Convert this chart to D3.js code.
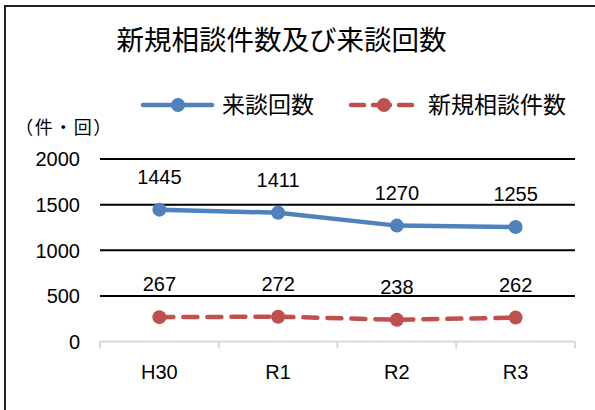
<!DOCTYPE html>
<html>
<head>
<meta charset="utf-8">
<script src="https://cdn.jsdelivr.net/npm/d3@7"></script>
<style>
  html, body { margin: 0; padding: 0; background: #fff; }
  svg { display: block; }
</style>
</head>
<body>
<svg id="chart" width="595" height="410"></svg>
<script>
const title = "新規相談件数及び来談回数";
const unitLabel = "（件・回）";
const categories = ["H30", "R1", "R2", "R3"];
const visitCounts = [1445, 1411, 1270, 1255];
const newCounts = [267, 272, 238, 262];
const seriesNames = ["来談回数", "新規相談件数"];
const yTicks = [0, 500, 1000, 1500, 2000];

(function () {
const svg = d3.select("#chart");
const numFont = "'Liberation Sans', Arial, sans-serif";
const cjkFont = "'Noto Sans CJK JP', 'Noto Sans CJK SC', sans-serif";
const blue = "#4f81bd", red = "#c0504d";

// frame
svg.append("rect").attr("x", 5).attr("y", 6).attr("width", 640).attr("height", 460)
  .attr("fill", "none").attr("stroke", "#222").attr("stroke-width", 2);

const pLeft = 100, pRight = 575, pTop = 159, pBottom = 341.5;
const x = d3.scaleBand().domain(categories).range([pLeft, pRight]);
const y = d3.scaleLinear().domain([0, 2000]).range([pBottom, pTop]);
const cx = d => x(d) + x.bandwidth() / 2;

// title
svg.append("text").attr("x", 281.5).attr("y", 50).attr("text-anchor", "middle")
  .attr("font-family", cjkFont).attr("font-size", 27.5).attr("fill", "#000").text(title);

// unit label
svg.append("text").attr("x", 64).attr("y", 134).attr("text-anchor", "middle")
  .attr("font-family", cjkFont).attr("font-size", 18).attr("letter-spacing", 1.5)
  .attr("fill", "#000").text(unitLabel);

// y axis labels
const yAxis = d3.axisLeft(y).tickValues(yTicks).tickSize(0).tickPadding(20)
  .tickFormat(d3.format("d"));
const gy = svg.append("g").attr("transform", `translate(${pLeft},0)`).call(yAxis);
gy.select(".domain").remove();
gy.selectAll("text").attr("font-family", numFont).attr("font-size", 20).attr("fill", "#000")
  .attr("dy", "0.34em");
// gridlines
svg.append("g").selectAll("line").data(yTicks.filter(t => t > 0)).join("line")
  .attr("x1", pLeft).attr("x2", pRight)
  .attr("y1", d => y(d)).attr("y2", d => y(d))
  .attr("stroke", "#000").attr("stroke-width", 2);

// x axis
const xAxis = d3.axisBottom(x).tickSize(0).tickPadding(23);
const gx = svg.append("g").attr("transform", `translate(0,${pBottom})`).call(xAxis);
gx.select(".domain").attr("stroke", "#d9d9d9").attr("stroke-width", 2)
  .attr("d", `M${pLeft},0H${pRight}`);
gx.selectAll("text").attr("font-family", numFont).attr("font-size", 20).attr("fill", "#000");
const bounds = categories.map(c => x(c)).concat([pRight]);
gx.append("g").selectAll("line").data(bounds).join("line")
  .attr("x1", d => d).attr("x2", d => d).attr("y1", 0).attr("y2", 7)
  .attr("stroke", "#d9d9d9").attr("stroke-width", 2);

// lines
const line = d3.line().x(d => cx(d.c)).y(d => y(d.v));
const visitData = categories.map((c, i) => ({ c, v: visitCounts[i] }));
const newData = categories.map((c, i) => ({ c, v: newCounts[i] }));

svg.append("path").datum(visitData).attr("d", line).attr("fill", "none")
  .attr("stroke", blue).attr("stroke-width", 4.5).attr("stroke-linejoin", "round");
svg.append("path").datum(newData).attr("d", line).attr("fill", "none")
  .attr("stroke", red).attr("stroke-width", 4.5).attr("stroke-dasharray", "14,10")
  .attr("stroke-linecap", "round");

svg.append("g").selectAll("circle").data(visitData).join("circle")
  .attr("cx", d => cx(d.c)).attr("cy", d => y(d.v)).attr("r", 7).attr("fill", blue);
svg.append("g").selectAll("circle").data(newData).join("circle")
  .attr("cx", d => cx(d.c)).attr("cy", d => y(d.v)).attr("r", 7).attr("fill", red);

// data labels
svg.append("g").selectAll("text").data(visitData.concat(newData)).join("text")
  .attr("x", d => cx(d.c)).attr("y", d => y(d.v) - 26).attr("text-anchor", "middle")
  .attr("font-family", numFont).attr("font-size", 20).attr("fill", "#000")
  .text(d => d.v);

// legend
const lg = svg.append("g");
lg.append("line").attr("x1", 143).attr("x2", 212).attr("y1", 105).attr("y2", 105)
  .attr("stroke", blue).attr("stroke-width", 4.5).attr("stroke-linecap", "round");
lg.append("circle").attr("cx", 178).attr("cy", 105).attr("r", 7).attr("fill", blue);
lg.append("text").attr("x", 222).attr("y", 113).attr("font-family", cjkFont)
  .attr("font-size", 23).attr("fill", "#000").text(seriesNames[0]);
lg.append("line").attr("x1", 351).attr("x2", 412).attr("y1", 105).attr("y2", 105)
  .attr("stroke", red).attr("stroke-width", 4.5).attr("stroke-dasharray", "13,9,17,9,13")
  .attr("stroke-linecap", "round");
lg.append("circle").attr("cx", 384).attr("cy", 105).attr("r", 7).attr("fill", red);
lg.append("text").attr("x", 428).attr("y", 113).attr("font-family", cjkFont)
  .attr("font-size", 23).attr("fill", "#000").text(seriesNames[1]);
})();
</script>
</body>
</html>
